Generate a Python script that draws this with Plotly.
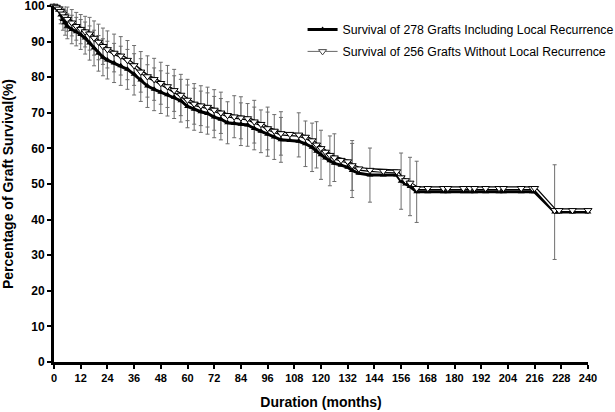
import plotly.graph_objects as go

# ---- data (months, % survival) ----
t_incl = [0, 1, 2, 3, 4, 5, 6, 8, 10, 12, 14, 16, 18, 20, 22, 24, 27, 30, 33, 36, 39, 42, 45, 48,
          51, 54, 57, 60, 63, 66, 69, 72, 75, 78, 81, 84, 87, 90, 93, 96, 99, 102, 106, 110, 113,
          116, 118, 120, 122, 124, 126, 129, 132, 134, 137, 142, 148, 154, 156, 158, 160, 163,
          168, 175, 177, 184, 187, 189, 194, 200, 202, 210, 215, 216, 225, 227, 233, 240]
v_incl = [100, 99.6, 98.8, 97.5, 96.2, 95.3, 94.3, 93.4, 92.8, 92.0, 91.0, 89.6, 88.2, 86.7, 85.6,
          84.8, 84.0, 83.2, 82.2, 80.8, 79.2, 77.5, 76.6, 75.8, 75.1, 74.4, 73.4, 71.8, 71.0, 70.3,
          69.8, 68.8, 68.2, 67.2, 67.0, 66.8, 66.6, 65.6, 64.8, 64.0, 63.2, 62.4, 62.2, 62.0, 61.3,
          60.3, 59.2, 58.2, 57.3, 56.5, 55.8, 55.3, 54.7, 53.8, 53.0, 52.5, 52.5, 52.5, 50.8, 50.0,
          49.3, 47.8, 47.8, 47.8, 47.8, 47.8, 47.8, 47.8, 47.8, 47.8, 47.8, 47.8, 47.8, 47.8,
          42.1, 42.1, 42.1, 42.1]

t_wo = t_incl
v_wo = [100, 99.7, 99.2, 98.5, 97.8, 97.0, 96.3, 95.3, 94.3, 93.5, 92.8, 92.2, 91.0, 89.9, 88.7,
        87.8, 86.8, 86.0, 84.8, 83.3, 81.5, 80.2, 79.4, 78.3, 77.4, 76.3, 75.0, 73.6, 72.5, 72.0,
        71.6, 70.8, 70.0, 69.3, 68.9, 68.6, 68.4, 67.5, 66.8, 65.6, 64.9, 64.2, 64.0, 63.8, 63.2,
        62.2, 61.0, 60.0, 59.0, 58.1, 57.4, 56.7, 56.3, 55.2, 54.3, 53.9, 53.6, 53.5, 51.8, 51.0,
        50.3, 48.8, 48.8, 48.8, 48.8, 48.8, 48.8, 48.8, 48.8, 48.8, 48.8, 48.8, 48.8, 48.8,
        42.6, 42.6, 42.6, 42.6]

# error bars (months where a bar is drawn, half-length in %)
err_t_incl = [3, 4, 5, 6, 8, 10, 12, 14, 16, 18, 20, 22, 24, 27, 30, 33, 36, 39, 42, 45, 48, 51,
              54, 57, 60, 63, 66, 69, 72, 75, 78, 84, 87, 90, 93, 96, 99, 102, 113, 116, 120, 124,
              134, 142, 156, 160, 163, 225]
err_e_incl = [2.5, 3.0, 3.5, 3.5, 4.0, 4.0, 4.2, 4.5, 4.8, 5.0, 5.0, 5.2, 5.3, 5.5, 5.5, 5.6,
              5.8, 6.0, 6.0, 6.0, 6.0, 6.0, 6.0, 6.0, 6.0, 5.9, 5.8, 5.8, 5.8, 5.8, 5.9, 6.0,
              6.0, 6.0, 6.0, 6.2, 6.3, 6.3, 6.4, 6.8, 6.9, 7.0, 7.6, 7.6, 7.9, 8.2, 8.6, 13.3]
err_t_wo = [3, 4, 5, 6, 8, 10, 12, 14, 16, 18, 20, 22, 24, 27, 30, 33, 36, 39, 42, 45, 48, 51,
            54, 57, 60, 63, 66, 69, 72, 75, 81, 84, 90, 96, 102, 110, 118, 126, 134]
err_e_wo = [2.3, 2.8, 3.2, 3.4, 3.7, 3.9, 4.1, 4.3, 4.6, 4.8, 5.0, 5.1, 5.2, 5.3, 5.4, 5.5,
            5.6, 5.7, 5.8, 5.9, 5.9, 5.9, 5.9, 5.8, 5.8, 5.7, 5.6, 5.6, 5.7, 5.8, 5.9, 5.9,
            6.0, 6.0, 6.1, 6.2, 6.5, 6.7, 7.0]

x_ticks = list(range(0, 241, 12))
y_ticks = list(range(0, 101, 10))

name_incl = "Survival of 278 Grafts Including Local Recurrence"
name_wo = "Survival of 256 Grafts Without Local Recurrence"


def lookup(ts, vs, sel):
    d = dict(zip(ts, vs))
    return [d[t] for t in sel]


fig = go.Figure()

# error bars (drawn first, behind the curves)
for ts, vs, et, ee in [(t_incl, v_incl, err_t_incl, err_e_incl), (t_wo, v_wo, err_t_wo, err_e_wo)]:
    fig.add_trace(go.Scatter(
        x=et, y=lookup(ts, vs, et), mode="markers",
        marker=dict(size=1, opacity=0),
        error_y=dict(type="data", array=ee, visible=True, color="#6e6e6e", thickness=1, width=2),
        showlegend=False, hoverinfo="skip", cliponaxis=False))

# including local recurrence: thick black line with filled up-triangles
fig.add_trace(go.Scatter(
    x=t_incl, y=v_incl, mode="lines+markers", name=name_incl,
    line=dict(color="black", width=3),
    marker=dict(symbol="triangle-up", size=6, color="black"),
    legendgroup="a", cliponaxis=False))

# without local recurrence: outlined (black edges, white centre) line with open down-triangles
fig.add_trace(go.Scatter(
    x=t_wo, y=v_wo, mode="lines", line=dict(color="black", width=4),
    showlegend=False, hoverinfo="skip", cliponaxis=False))
fig.add_trace(go.Scatter(
    x=t_wo, y=v_wo, mode="lines+markers", line=dict(color="white", width=1.5),
    marker=dict(symbol="triangle-down", size=7, color="white", line=dict(color="black", width=1)),
    showlegend=False, cliponaxis=False))
# legend entry for the second series
fig.add_trace(go.Scatter(
    x=[None], y=[None], mode="lines+markers", name=name_wo,
    line=dict(color="#666666", width=1),
    marker=dict(symbol="triangle-down", size=7, color="white", line=dict(color="#444444", width=1)),
    legendgroup="b"))

font_family = "Liberation Sans, Arial, sans-serif"

fig.update_layout(
    width=615, height=412,
    margin=dict(l=54, r=27, t=6, b=50, autoexpand=False),
    paper_bgcolor="white", plot_bgcolor="white",
    font=dict(family=font_family, color="black"),
    showlegend=True,
    legend=dict(x=0.4655, y=0.975, xanchor="left", yanchor="top",
                font=dict(size=12.3, family=font_family, color="black"),
                bgcolor="rgba(0,0,0,0)", traceorder="grouped", tracegroupgap=3),
    xaxis=dict(range=[0, 240], tickvals=x_ticks, ticktext=[str(v) for v in x_ticks],
               showgrid=False, zeroline=False, showline=True, linecolor="black", linewidth=3,
               ticks="outside", ticklen=4, tickwidth=2, tickcolor="black", automargin=False,
               tickfont=dict(size=11, weight="bold", family=font_family),
               title=dict(text="Duration (months)", standoff=14,
                          font=dict(size=14, weight="bold", family=font_family))),
    yaxis=dict(range=[0, 100], tickvals=y_ticks, ticktext=[str(v) for v in y_ticks],
               showgrid=False, zeroline=False, showline=True, linecolor="black", linewidth=3,
               ticks="outside", ticklen=4, tickwidth=2, tickcolor="black", automargin=False,
               ticklabeloverflow="allow",
               tickfont=dict(size=12, weight="bold", family=font_family),
               title=dict(text="Percentage of Graft Survival(%)", standoff=10,
                          font=dict(size=14, weight="bold", family=font_family))),
)

fig.write_html("out.html", config={"displayModeBar": False},
               post_script="document.body.style.margin='0';document.body.style.overflow='hidden';")
